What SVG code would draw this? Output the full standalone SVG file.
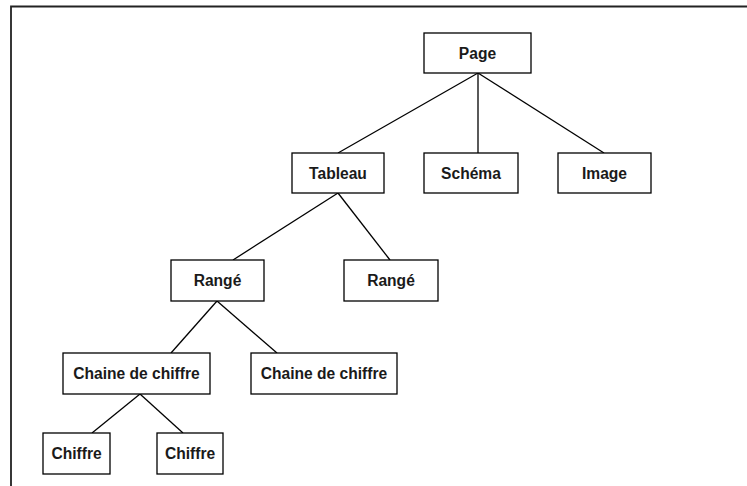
<svg xmlns="http://www.w3.org/2000/svg" width="747" height="486" viewBox="0 0 747 486">
  <style>
    .box { fill: #ffffff; stroke: #000000; stroke-width: 1.3; }
    .lbl { font-family: "Liberation Sans", Arial, sans-serif; font-size: 15.6px; font-weight: bold; fill: #1a1a1a; text-anchor: middle; }
    .edge { stroke: #000000; stroke-width: 1.3; fill: none; }
    .frame { stroke: #222222; stroke-width: 1.8; fill: none; }
  </style>
  <rect width="747" height="486" fill="#ffffff"/>
  <path class="frame" d="M11,486 L11,6.5 L747,6.5"/>
  <g id="connectors">
    <line class="edge" x1="478" y1="73" x2="338" y2="153"/>
    <line class="edge" x1="478" y1="73" x2="478" y2="153"/>
    <line class="edge" x1="478" y1="73" x2="604" y2="153"/>
    <line class="edge" x1="338" y1="193" x2="233" y2="260"/>
    <line class="edge" x1="338" y1="193" x2="390" y2="260"/>
    <line class="edge" x1="217" y1="301" x2="171" y2="353"/>
    <line class="edge" x1="217" y1="301" x2="277" y2="353"/>
    <line class="edge" x1="140" y1="394" x2="92" y2="433"/>
    <line class="edge" x1="140" y1="394" x2="183" y2="433"/>
  </g>
  <g id="page">
    <rect class="box" x="424" y="33" width="107" height="40"/>
    <text class="lbl" x="477.5" y="58.5">Page</text>
  </g>
  <g id="tableau">
    <rect class="box" x="292" y="153" width="92" height="40"/>
    <text class="lbl" x="338" y="178.5">Tableau</text>
  </g>
  <g id="schema">
    <rect class="box" x="424" y="153" width="94" height="40"/>
    <text class="lbl" x="471" y="178.5">Schéma</text>
  </g>
  <g id="image">
    <rect class="box" x="558" y="153" width="93" height="40"/>
    <text class="lbl" x="604.5" y="178.5">Image</text>
  </g>
  <g id="range1">
    <rect class="box" x="171" y="260" width="93" height="41"/>
    <text class="lbl" x="217.5" y="286">Rangé</text>
  </g>
  <g id="range2">
    <rect class="box" x="344" y="260" width="94" height="41"/>
    <text class="lbl" x="391" y="286">Rangé</text>
  </g>
  <g id="chaine1">
    <rect class="box" x="63" y="353" width="147" height="41"/>
    <text class="lbl" x="136.5" y="379">Chaine de chiffre</text>
  </g>
  <g id="chaine2">
    <rect class="box" x="251" y="353" width="146" height="41"/>
    <text class="lbl" x="324" y="379">Chaine de chiffre</text>
  </g>
  <g id="chiffre1">
    <rect class="box" x="43" y="433" width="67" height="41"/>
    <text class="lbl" x="76.5" y="459">Chiffre</text>
  </g>
  <g id="chiffre2">
    <rect class="box" x="157" y="433" width="66" height="41"/>
    <text class="lbl" x="190" y="459">Chiffre</text>
  </g>
</svg>
